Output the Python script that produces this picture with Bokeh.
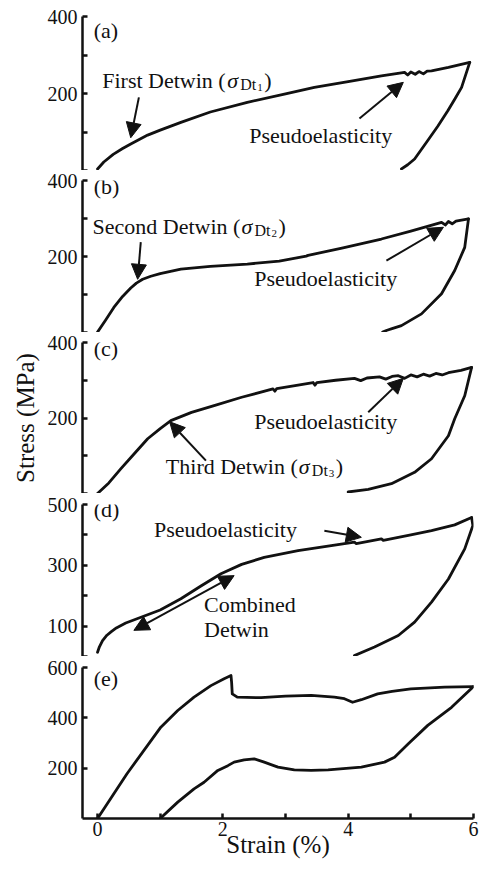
from bokeh.plotting import figure
from bokeh.layouts import column
from bokeh.models import Range1d, FixedTicker, Label, Arrow, NormalHead
from bokeh.embed import file_html
from bokeh.resources import INLINE

# ---------------- data (strain %, stress MPa) ----------------
a_load_strain = [0, 0.1, 0.25, 0.4, 0.53, 0.8, 1.0, 1.33, 1.8, 2.39, 3.0, 3.46, 4.0, 4.53, 4.9, 4.95, 5.0, 5.07, 5.13, 5.2, 5.26, 5.33, 5.6, 5.94]
a_load_stress = [4, 22, 42, 57, 69, 92, 105, 125, 152, 177, 199, 216, 231, 246, 255, 248, 256, 250, 257, 251, 258, 259, 268, 281]
a_unload_strain = [5.94, 5.81, 5.7, 5.59, 5.43, 5.27, 5.06, 4.95, 4.85]
a_unload_stress = [281, 216, 185, 155, 115, 78, 30, 15, 4]

b_load_strain = [0, 0.13, 0.26, 0.4, 0.53, 0.62, 0.72, 0.85, 1.0, 1.33, 1.8, 2.39, 2.9, 3.33, 3.36, 3.9, 4.53, 5.0, 5.49, 5.55, 5.6, 5.66, 5.72, 5.92]
b_load_stress = [1, 33, 66, 95, 117, 130, 140, 148, 155, 167, 174, 180, 188, 201, 203, 222, 246, 267, 290, 283, 292, 286, 293, 299]
b_unload_strain = [5.92, 5.86, 5.7, 5.49, 5.17, 4.85, 4.7, 4.62, 4.55]
b_unload_stress = [299, 224, 163, 102, 49, 18, 10, 6, 1]

c_load_strain = [0, 0.18, 0.37, 0.6, 0.8, 1.0, 1.17, 1.5, 1.86, 2.3, 2.8, 2.83, 2.86, 3.2, 3.44, 3.47, 3.5, 3.8, 4.1, 4.2, 4.3, 4.5, 4.6, 4.7, 4.8, 4.9, 5.0, 5.1, 5.2, 5.3, 5.4, 5.5, 5.6, 5.8, 5.97]
c_load_stress = [0, 28, 65, 108, 145, 172, 193, 215, 233, 255, 277, 271, 278, 287, 294, 287, 294, 300, 305, 299, 306, 309, 303, 310, 312, 305, 314, 309, 316, 311, 318, 314, 320, 326, 334]
c_unload_strain = [5.97, 5.86, 5.7, 5.6, 5.33, 5.06, 4.69, 4.32, 4.0]
c_unload_stress = [334, 259, 198, 153, 92, 56, 26, 11, 4]

d_load_strain = [0, 0.03, 0.08, 0.15, 0.22, 0.3, 0.45, 0.63, 1.0, 1.33, 1.65, 1.97, 2.3, 2.66, 3.2, 3.73, 4.1, 4.13, 4.53, 4.56, 5.0, 5.33, 5.7, 5.97]
d_load_stress = [14, 32, 52, 70, 82, 94, 110, 124, 153, 190, 232, 272, 303, 326, 348, 365, 376, 371, 387, 382, 400, 414, 433, 457]
d_unload_strain = [5.97, 5.99, 5.86, 5.6, 5.33, 5.06, 4.8, 4.42, 4.1]
d_unload_stress = [457, 431, 354, 255, 179, 113, 69, 31, 3]

e_load_strain = [0, 0.47, 1.01, 1.28, 1.54, 1.81, 2.02, 2.13, 2.14, 2.15, 2.23, 2.61, 3.0, 3.41, 3.78, 3.94, 4.07, 4.21, 4.47, 4.7, 5.0, 5.54, 6.0]
e_load_stress = [0, 178, 363, 429, 482, 528, 555, 568, 540, 495, 482, 480, 486, 489, 482, 476, 462, 472, 495, 505, 515, 522, 524]
e_unload_strain = [6.0, 5.65, 5.27, 4.96, 4.74, 4.58, 4.21, 3.68, 3.41, 3.14, 2.88, 2.66, 2.5, 2.34, 2.18, 2.08, 1.92, 1.7, 1.54, 1.28, 1.0]
e_unload_stress = [524, 442, 370, 297, 243, 224, 204, 193, 191, 193, 204, 224, 237, 233, 224, 210, 191, 144, 118, 65, 0]

x_ticks = [0, 2, 4, 6]
x_minor = [1, 3, 5]

FONT = "Liberation Serif"
INK = "#111111"
TXT = 22
LIFT = 9  # px correction for label baseline placement


def panel(height, top, yr, major, minor, bottom=0, xaxis=False):
    p = figure(width=479, height=height, output_backend="svg", toolbar_location=None,
               x_range=Range1d(-0.24, 6.0), y_range=Range1d(*yr),
               min_border_left=82, min_border_right=6, min_border_top=top,
               min_border_bottom=bottom, x_axis_location="below" if xaxis else None,
               title=None)
    p.outline_line_color = None
    p.grid.visible = False
    p.background_fill_color = "white"
    axes = list(p.yaxis) + (list(p.xaxis) if xaxis else [])
    for ax in axes:
        ax.axis_line_width = 2.5
        ax.axis_line_color = INK
        ax.major_tick_in = 5
        ax.major_tick_out = 0
        ax.minor_tick_in = 5
        ax.minor_tick_out = 0
        ax.major_tick_line_width = 2.5
        ax.minor_tick_line_width = 2.5
        ax.major_tick_line_color = INK
        ax.minor_tick_line_color = INK
        ax.major_label_text_font = FONT
        ax.major_label_text_font_size = "20px"
        ax.major_label_text_color = INK
        ax.axis_label_text_font = FONT
        ax.axis_label_text_font_size = "25px"
        ax.axis_label_text_font_style = "normal"
        ax.axis_label_text_color = INK
    p.yaxis.ticker = FixedTicker(ticks=major, minor_ticks=minor)
    p.yaxis.major_label_standoff = 5
    if xaxis:
        p.xaxis.ticker = FixedTicker(ticks=x_ticks, minor_ticks=x_minor)
        p.xaxis.major_label_standoff = 3
    return p


def curve(p, xs, ys):
    p.line(xs, ys, line_width=2.8, line_color=INK, line_join="round", line_cap="round")


def txt(p, x, y, text, dx=0, dy=0, size=TXT, style="normal"):
    p.add_layout(Label(x=x, y=y, x_offset=dx, y_offset=dy + LIFT, text=text, text_font=FONT,
                       text_font_size=f"{size}px", text_font_style=style, text_color=INK,
                       text_baseline="alphabetic", text_align="left"))


def detwin(p, x, y, head, w, sub):
    txt(p, x, y, head)
    txt(p, x, y, "\u03c3", dx=w + 1, style="italic")
    txt(p, x, y, "Dt", dx=w + 14, dy=-4, size=16)
    txt(p, x, y, sub, dx=w + 31, dy=-7, size=11)
    txt(p, x, y, ")", dx=w + 38)


def arrow(p, x0, y0, x1, y1, both=False):
    kw = dict(end=NormalHead(size=15, line_color=INK, fill_color=INK, line_width=1))
    if both:
        kw["start"] = NormalHead(size=15, line_color=INK, fill_color=INK, line_width=1)
    p.add_layout(Arrow(x_start=x0, y_start=y0, x_end=x1, y_end=y1, line_width=2,
                       line_color=INK, **kw))


# (a)
pa = panel(170, 16, (0, 400), [200, 400], [0, 100, 300])
curve(pa, a_load_strain, a_load_stress)
curve(pa, a_unload_strain, a_unload_stress)
txt(pa, -0.06, 341, "(a)")
detwin(pa, 0.075, 210, "First Detwin (", 124, "1")
arrow(pa, 0.66, 190, 0.53, 85)
txt(pa, 2.42, 67, "Pseudoelasticity")
arrow(pa, 4.18, 135, 4.88, 229)

# (b)
pb = panel(162, 10, (0, 400), [200, 400], [0, 100, 300])
curve(pb, b_load_strain, b_load_stress)
curve(pb, b_unload_strain, b_unload_stress)
txt(pb, -0.06, 360, "(b)")
detwin(pb, -0.08, 255, "Second Detwin (", 148, "2")
arrow(pb, 0.69, 238, 0.64, 140)
txt(pb, 2.5, 119, "Pseudoelasticity")
arrow(pb, 4.61, 189, 5.52, 277)

# (c)
pc = panel(161, 10, (0, 400), [200, 400], [0, 100, 300])
pc.yaxis.axis_label = "Stress (MPa)"
pc.yaxis.axis_label_standoff = 6
curve(pc, c_load_strain, c_load_stress)
curve(pc, c_unload_strain, c_unload_stress)
txt(pc, -0.06, 361, "(c)")
detwin(pc, 1.09, 48, "Third Detwin (", 132, "3")
arrow(pc, 1.73, 87, 1.15, 190)
txt(pc, 2.5, 167, "Pseudoelasticity")
arrow(pc, 4.32, 215, 4.88, 305)

# (d)
pd_ = panel(163, 11, (0, 500), [100, 300, 500], [0, 200, 400])
curve(pd_, d_load_strain, d_load_stress)
curve(pd_, d_unload_strain, d_unload_stress)
txt(pd_, -0.06, 453, "(d)")
txt(pd_, 0.9, 387, "Pseudoelasticity")
arrow(pd_, 3.62, 414, 4.21, 392)
arrow(pd_, 0.58, 86, 2.18, 266, both=True)
txt(pd_, 1.7, 140, "Combined")
txt(pd_, 1.7, 60, "Detwin")

# (e)
pe = panel(213, 11, (0, 600), [200, 400, 600], [], bottom=51, xaxis=True)
pe.xaxis.axis_label = "Strain (%)"
pe.xaxis.axis_label_standoff = -8
curve(pe, e_load_strain, e_load_stress)
curve(pe, e_unload_strain, e_unload_stress)
txt(pe, -0.06, 519, "(e)")

layout = column(pa, pb, pc, pd_, pe, spacing=0)
open("out.html", "w").write(file_html(layout, INLINE))
